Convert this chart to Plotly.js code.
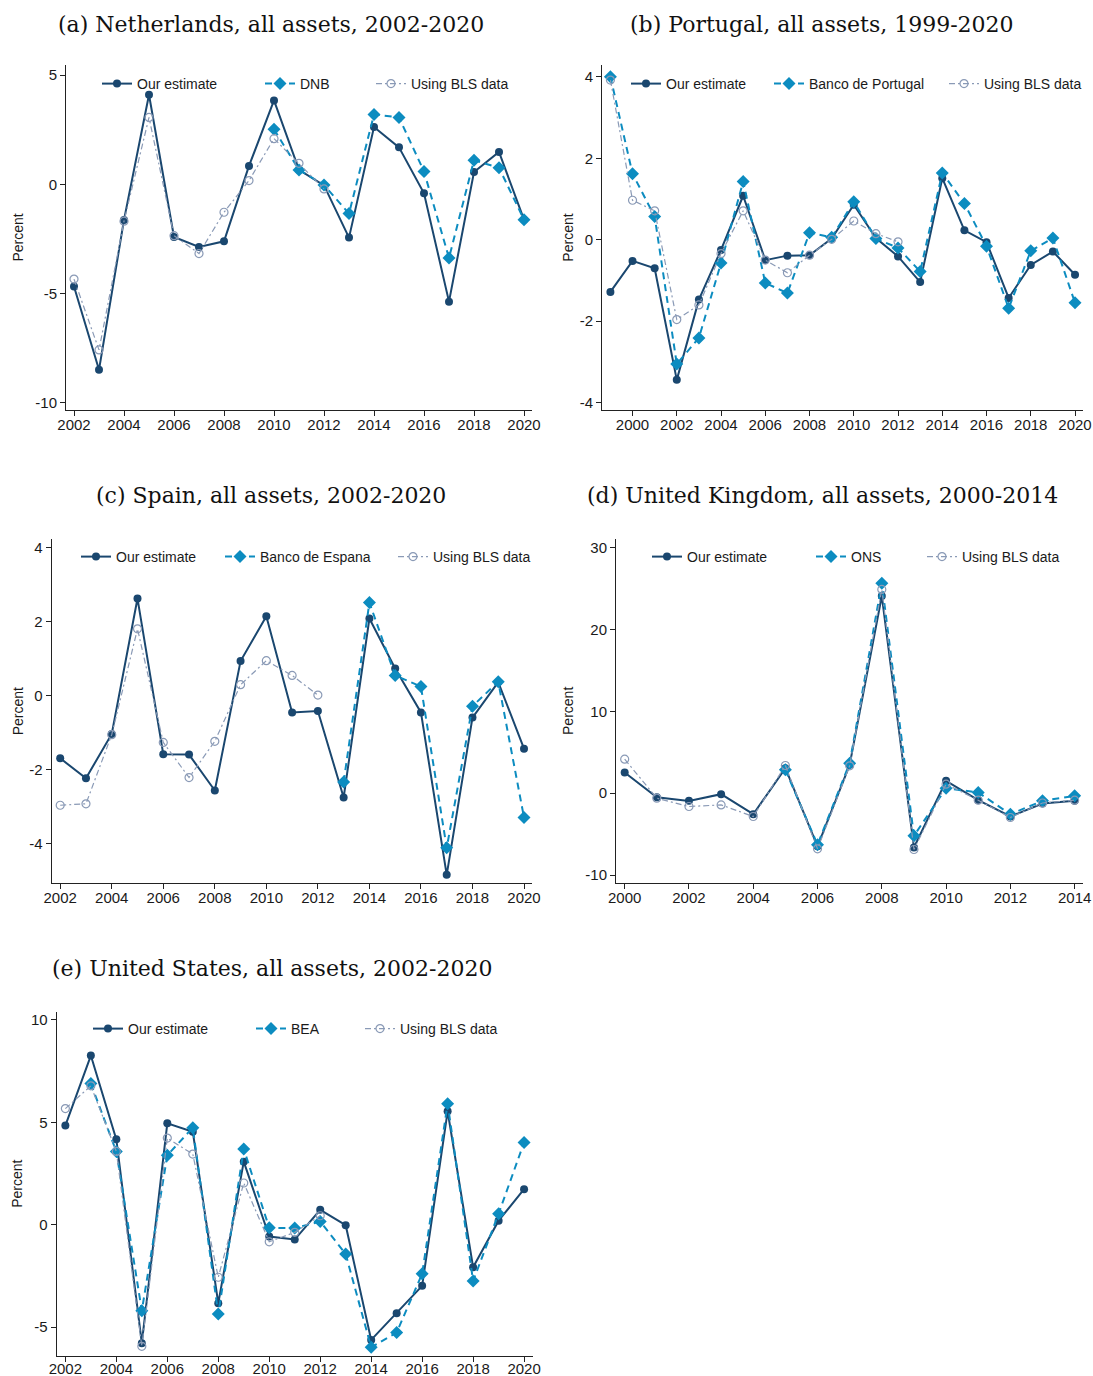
<!DOCTYPE html>
<html>
<head>
<meta charset="utf-8">
<script src="https://cdn.plot.ly/plotly-3.0.1.min.js"></script>
<style>html,body{margin:0;padding:0;background:#fff;}#chart{width:1093px;height:1376px;}</style>
</head>
<body>
<div id="chart"></div>
<script>
// ---------- Data ----------
// (a) Netherlands
const nlYears    = [2002,2003,2004,2005,2006,2007,2008,2009,2010,2011,2012,2013,2014,2015,2016,2017,2018,2019,2020];
const nlOurs     = [-4.68,-8.49,-1.63,4.10,-2.41,-2.87,-2.61,0.84,3.84,0.66,-0.05,-2.44,2.62,1.69,-0.41,-5.37,0.56,1.48,-1.62];
const nlDnbYears = [2010,2011,2012,2013,2014,2015,2016,2017,2018,2019,2020];
const nlDnb      = [2.52,0.66,-0.03,-1.34,3.20,3.06,0.59,-3.37,1.10,0.76,-1.62];
const nlBlsYears = [2002,2003,2004,2005,2006,2007,2008,2009,2010,2011,2012];
const nlBls      = [-4.34,-7.58,-1.69,3.06,-2.35,-3.17,-1.28,0.17,2.09,0.96,-0.21];

// (b) Portugal
const ptYears    = [1999,2000,2001,2002,2003,2004,2005,2006,2007,2008,2009,2010,2011,2012,2013,2014,2015,2016,2017,2018,2019,2020];
const ptOurs     = [-1.28,-0.52,-0.70,-3.44,-1.47,-0.25,1.08,-0.50,-0.39,-0.38,0.03,0.86,0.04,-0.41,-1.04,1.51,0.23,-0.06,-1.43,-0.62,-0.29,-0.86];
const ptBdp      = [4.00,1.62,0.57,-3.05,-2.41,-0.57,1.43,-1.06,-1.31,0.17,0.06,0.93,0.03,-0.20,-0.78,1.64,0.89,-0.16,-1.68,-0.27,0.04,-1.55];
const ptBlsYears = [1999,2000,2001,2002,2003,2004,2005,2006,2007,2008,2009,2010,2011,2012];
const ptBls      = [3.92,0.97,0.71,-1.96,-1.60,-0.34,0.71,-0.50,-0.81,-0.38,0.01,0.46,0.15,-0.05];

// (c) Spain
const esYears    = [2002,2003,2004,2005,2006,2007,2008,2009,2010,2011,2012,2013,2014,2015,2016,2017,2018,2019,2020];
const esOurs     = [-1.69,-2.23,-1.03,2.63,-1.58,-1.59,-2.56,0.94,2.15,-0.45,-0.41,-2.75,2.09,0.74,-0.45,-4.84,-0.59,0.37,-1.43];
const esBdeYears = [2013,2014,2015,2016,2017,2018,2019,2020];
const esBde      = [-2.33,2.52,0.55,0.25,-4.11,-0.28,0.38,-3.29];
const esBlsYears = [2002,2003,2004,2005,2006,2007,2008,2009,2010,2011,2012];
const esBls      = [-2.96,-2.92,-1.05,1.81,-1.26,-2.21,-1.23,0.30,0.95,0.55,0.02];

// (d) United Kingdom
const ukYears    = [2000,2001,2002,2003,2004,2005,2006,2007,2008,2009,2010,2011,2012,2013,2014];
const ukOurs     = [2.53,-0.49,-0.94,-0.12,-2.57,3.05,-6.50,3.46,24.10,-6.64,1.51,-0.86,-2.85,-1.26,-0.94];
const ukOnsYears = [2005,2006,2007,2008,2009,2010,2011,2012,2013,2014];
const ukOns      = [2.85,-6.30,3.67,25.66,-5.21,0.61,0.08,-2.57,-0.94,-0.33];
const ukBls      = [4.15,-0.61,-1.63,-1.43,-2.85,3.38,-6.80,3.34,24.90,-6.88,1.10,-0.86,-2.97,-1.20,-0.86];

// (e) United States
const usYears    = [2002,2003,2004,2005,2006,2007,2008,2009,2010,2011,2012,2013,2014,2015,2016,2017,2018,2019,2020];
const usOurs     = [4.84,8.26,4.17,-5.78,4.95,4.54,-3.83,3.08,-0.57,-0.72,0.73,-0.02,-5.62,-4.32,-2.98,5.54,-2.07,0.20,1.74];
const usBeaYears = [2003,2004,2005,2006,2007,2008,2009,2010,2011,2012,2013,2014,2015,2016,2017,2018,2019,2020];
const usBea      = [6.89,3.58,-4.19,3.39,4.74,-4.36,3.70,-0.15,-0.16,0.16,-1.43,-5.98,-5.26,-2.39,5.91,-2.74,0.54,4.02];
const usBlsYears = [2002,2003,2004,2005,2006,2007,2008,2009,2010,2011,2012];
const usBls      = [5.67,6.78,3.58,-5.93,4.23,3.45,-2.56,2.04,-0.83,-0.37,0.44];

// Series / panel labels
const seriesOurs = "Our estimate";
const seriesBls  = "Using BLS data";
const agencyNames = ["DNB","Banco de Portugal","Banco de Espana","ONS","BEA"];
const panelTitles = [
  "(a) Netherlands, all assets, 2002-2020",
  "(b) Portugal, all assets, 1999-2020",
  "(c) Spain, all assets, 2002-2020",
  "(d) United Kingdom, all assets, 2000-2014",
  "(e) United States, all assets, 2002-2020"
];
const yTickVals = [[-10,-5,0,5],[-4,-2,0,2,4],[-4,-2,0,2,4],[-10,0,10,20,30],[-5,0,5,10]];
const yTickText = [["-10","-5","0","5"],["-4","-2","0","2","4"],["-4","-2","0","2","4"],["-10","0","10","20","30"],["-5","0","5","10"]];
const yAxisTitle = "Percent";

// ---------- Styling / layout ----------
const W = 1093, H = 1376;
const C_OURS = "#1a476f", C_AG = "#0c8cc0", C_BLS = "#8a9ab6";
const SANS = "Liberation Sans, Arial, sans-serif";

// panel pixel boxes: [left, right, top, bottom]
const boxes = [
  [66, 532, 65, 410],
  [602, 1083, 65, 410],
  [51.7, 532, 539, 883.3],
  [616, 1083, 539, 882.7],
  [56.7, 533, 1011.7, 1355.7]
];
const xRanges = [[2001.68,2020.32],[1998.62,2020.36],[2001.67,2020.31],[1999.73,2014.26],[2001.66,2020.35]];
const yRanges = [[-10.33,5.46],[-4.18,4.29],[-5.07,4.24],[-10.94,31.06],[-6.39,10.4]];
const titleCenters = [271, 822, 271, 822, 272];
const titleY = [24, 24, 496, 496, 968];
const ytStandoff = [8, 2, 2, 8, 5];
const xLabelShift = [-4, -4, -4, -4, -6];
// legend text start x for the three entries of each panel, and text centre y
const legendTextX = [[137,300,411],[666,809,984],[116,260,433],[687,851,962],[128,291,400]];
const legendTextY = [84, 84, 557, 557, 1029];

const panels = [
  {ox: nlYears, o: nlOurs, ax: nlDnbYears, a: nlDnb, bx: nlBlsYears, b: nlBls},
  {ox: ptYears, o: ptOurs, ax: ptYears, a: ptBdp, bx: ptBlsYears, b: ptBls},
  {ox: esYears, o: esOurs, ax: esBdeYears, a: esBde, bx: esBlsYears, b: esBls},
  {ox: ukYears, o: ukOurs, ax: ukOnsYears, a: ukOns, bx: ukYears, b: ukBls},
  {ox: usYears, o: usOurs, ax: usBeaYears, a: usBea, bx: usBlsYears, b: usBls}
];

const traces = [];
const layout = {
  width: W, height: H,
  margin: {l:0, r:0, t:0, b:0},
  paper_bgcolor: "#fff", plot_bgcolor: "#fff",
  font: {family: SANS, size: 14, color: "#1a1a1a"},
  annotations: [],
  showlegend: true
};

let legendCount = 0;
function newLegend(xText, yText) {
  legendCount += 1;
  const key = legendCount === 1 ? "legend" : "legend" + legendCount;
  layout[key] = {
    x: (xText - 40) / W, y: 1 - (yText - 16) / H, xanchor: "left", yanchor: "top",
    orientation: "h", bgcolor: "rgba(0,0,0,0)", borderwidth: 0,
    font: {family: SANS, size: 14, color: "#1a1a1a"},
    itemwidth: 30
  };
  return key;
}

panels.forEach((p, i) => {
  const n = i + 1;
  const xa = "x" + (n === 1 ? "" : n), ya = "y" + (n === 1 ? "" : n);
  const ly = legendTextY[i];
  traces.push({
    x: p.ox, y: p.o, xaxis: xa, yaxis: ya, legend: newLegend(legendTextX[i][0], ly), name: seriesOurs,
    mode: "lines+markers", type: "scatter",
    line: {color: C_OURS, width: 2},
    marker: {symbol: "circle", size: 8, color: C_OURS}
  });
  traces.push({
    x: p.ax, y: p.a, xaxis: xa, yaxis: ya, legend: newLegend(legendTextX[i][1], ly), name: agencyNames[i],
    mode: "lines+markers", type: "scatter",
    line: {color: C_AG, width: 2, dash: "7px,5px"},
    marker: {symbol: "diamond", size: 10, color: C_AG}
  });
  traces.push({
    x: p.bx, y: p.b, xaxis: xa, yaxis: ya, legend: newLegend(legendTextX[i][2], ly), name: seriesBls,
    mode: "lines+markers", type: "scatter",
    line: {color: C_BLS, width: 1.2, dash: "6px,3px,2px,3px"},
    marker: {symbol: "circle-open", size: 8, color: C_BLS, line: {width: 1.2, color: C_BLS}}
  });

  const [L, R, T, B] = boxes[i];
  const xKey = "xaxis" + (n === 1 ? "" : n), yKey = "yaxis" + (n === 1 ? "" : n);
  layout[xKey] = {
    domain: [L / W, R / W], anchor: ya, range: xRanges[i],
    tick0: 2000, dtick: 2, ticks: "outside", ticklen: 5, tickcolor: "#222", tickwidth: 1,
    showline: true, linecolor: "#222", linewidth: 1, showgrid: false, zeroline: false,
    tickfont: {family: SANS, size: 15, color: "#1a1a1a"},
    ticklabelstandoff: xLabelShift[i]
  };
  layout[yKey] = {
    domain: [1 - B / H, 1 - T / H], anchor: xa, range: yRanges[i],
    tickvals: yTickVals[i], ticktext: yTickText[i],
    ticks: "outside", ticklen: 5, tickcolor: "#222", tickwidth: 1,
    showline: true, linecolor: "#222", linewidth: 1, showgrid: false, zeroline: false,
    tickfont: {family: SANS, size: 15, color: "#1a1a1a"},
    title: {text: yAxisTitle, standoff: ytStandoff[i], font: {family: SANS, size: 14, color: "#1a1a1a"}},
    automargin: false
  };
  layout.annotations.push({
    text: panelTitles[i], xref: "paper", yref: "paper",
    x: titleCenters[i] / W, y: 1 - titleY[i] / H, xanchor: "center", yanchor: "middle",
    showarrow: false, font: {family: "DejaVu Serif, serif", size: 22, color: "#111"}
  });
});

Plotly.newPlot("chart", traces, layout, {staticPlot: true});
</script>
</body>
</html>
